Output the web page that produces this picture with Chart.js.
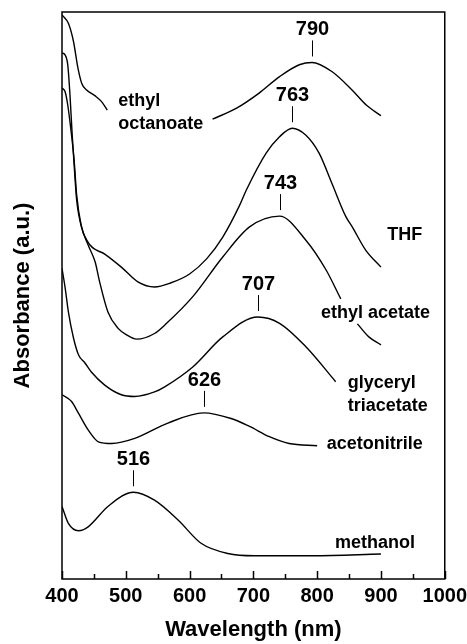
<!DOCTYPE html>
<html>
<head>
<meta charset="utf-8">
<script src="https://cdn.jsdelivr.net/npm/chart.js@4/dist/chart.umd.min.js"></script>
<style>
  body { margin: 0; background: #fff; }
  #wrap { width: 467px; height: 644px; }
</style>
</head>
<body>
<div id="wrap"><canvas id="spectra"></canvas></div>
<script>
// wavelength (nm) and absorbance (a.u., curves stacked with offsets)
// a null absorbance leaves a gap where the solvent name sits on the curve
const octanoateWl  = [400, 410, 418, 425, 431, 439, 452, 462, 471, 550, 636, 673, 709, 741, 772, 792, 823, 855, 877, 900];
const octanoateAbs = [99.5, 98.0, 94.8, 90.1, 87.4, 86.2, 85.2, 84.2, 82.7, null, 81.1, 83.0, 85.7, 88.6, 90.7, 91.1, 89.5, 86.2, 83.6, 81.7];

const thfWl  = [400, 405, 409, 412.5, 416, 420, 423, 431, 444, 467, 493, 519, 545, 570, 600, 627, 652, 678, 689, 720, 741, 761, 782, 803, 823, 845, 855, 876, 900];
const thfAbs = [92.8, 92.4, 90.7, 85.4, 78.3, 71.3, 66.8, 61.9, 58.9, 57.3, 55.0, 52.4, 51.5, 52.2, 53.8, 56.5, 60.3, 65.8, 68.6, 75.1, 78.0, 79.5, 78.3, 75.1, 69.8, 63.9, 62.1, 58.0, 55.0];

const ethylAcetateWl  = [400, 405, 409, 414, 419, 423, 430, 441, 452, 459, 472, 488, 502, 517, 545, 564, 605, 652, 694, 741, 782, 814, 837, 850, 863, 881, 900];
const ethylAcetateAbs = [86.6, 85.9, 83.6, 79.2, 73.9, 67.7, 62.4, 58.9, 55.9, 52.4, 47.1, 44.2, 43.0, 42.3, 43.3, 45.1, 49.8, 56.8, 62.1, 64.0, 59.8, 54.5, 49.4, null, 45.0, 42.7, 41.3];

const triacetinWl  = [400, 405, 410, 418, 426, 436, 446, 467, 493, 514, 545, 561, 605, 652, 707, 741, 782, 829];
const triacetinAbs = [54.8, 51.3, 47.1, 42.5, 39.5, 38.1, 36.5, 34.2, 32.5, 32.2, 33.0, 33.9, 37.4, 42.7, 46.2, 45.1, 41.0, 34.8];

const acetonitrileWl  = [400, 415, 426, 441, 457, 478, 514, 566, 622, 665, 694, 725, 756, 800];
const acetonitrileAbs = [32.5, 31.3, 29.2, 26.3, 24.2, 23.9, 24.8, 27.5, 29.3, 28.3, 26.9, 25.1, 23.9, 23.5];

const methanolWl  = [400, 410, 426, 441, 472, 512, 545, 582, 618, 660, 702, 793, 900];
const methanolAbs = [12.8, 9.8, 8.5, 9.2, 12.8, 15.3, 13.9, 10.4, 6.3, 4.5, 4.1, 4.1, 4.4];

// band maxima marked on the plot
const peakText = ['790', '763', '743', '707', '626', '516'];
const peakWl   = [792, 761, 741, 707, 622, 512];
const peakAbs  = [91.1, 79.5, 64.0, 46.2, 29.3, 15.3];

// solvent names, anchored at the left end of their first line
const solventNames = [['ethyl', 'octanoate'], ['THF'], ['ethyl acetate'], ['glyceryl', 'triacetate'], ['acetonitrile'], ['methanol']];
const solventWl    = [488, 910, 806, 848, 815, 828];
const solventAbs   = [83.4, 59.8, 46.0, 33.6, 22.9, 5.4];

const fontFamily = '"Liberation Sans", Arial, Helvetica, sans-serif';

function toPoints(wl, abs) {
    return wl.map((w, i) => ({ x: w, y: abs[i] }));
}

const series = [
    [octanoateWl, octanoateAbs],
    [thfWl, thfAbs],
    [ethylAcetateWl, ethylAcetateAbs],
    [triacetinWl, triacetinAbs],
    [acetonitrileWl, acetonitrileAbs],
    [methanolWl, methanolAbs],
];

// frame, inward x ticks, peak markers and solvent names
const decorations = {
    id: 'decorations',
    afterDatasetsDraw(chart) {
        const { ctx, chartArea: a, scales: { x, y } } = chart;
        ctx.save();
        ctx.strokeStyle = '#000';
        ctx.fillStyle = '#000';

        ctx.lineWidth = 1.5;
        ctx.strokeRect(a.left, a.top, a.right - a.left, a.bottom - a.top);

        for (let w = 400; w <= 1000; w += 50) {
            const px = Math.round(x.getPixelForValue(w)) + 0.5;
            const len = w % 100 === 0 ? 8 : 5;
            ctx.beginPath();
            ctx.moveTo(px, a.bottom);
            ctx.lineTo(px, a.bottom - len);
            ctx.stroke();
        }

        ctx.lineWidth = 1;
        ctx.font = 'bold 20px ' + fontFamily;
        ctx.textAlign = 'center';
        ctx.textBaseline = 'alphabetic';
        peakWl.forEach((w, i) => {
            const px = Math.round(x.getPixelForValue(w)) + 0.5;
            const py = y.getPixelForValue(peakAbs[i]);
            ctx.beginPath();
            ctx.moveTo(px, py - 6);
            ctx.lineTo(px, py - 22);
            ctx.stroke();
            ctx.fillText(peakText[i], px, py - 27);
        });

        ctx.font = 'bold 18px ' + fontFamily;
        ctx.textAlign = 'left';
        solventNames.forEach((lines, i) => {
            const px = x.getPixelForValue(solventWl[i]);
            const py = y.getPixelForValue(solventAbs[i]);
            lines.forEach((t, j) => ctx.fillText(t, px, py + j * 22.5));
        });
        ctx.restore();
    }
};

const ctx = document.getElementById('spectra').getContext('2d');

const spectraChart = new Chart(ctx, {
    type: 'line',
    data: {
        datasets: series.map(([wl, abs]) => ({
            data: toPoints(wl, abs),
            borderColor: '#000',
            borderWidth: 1.4,
            pointRadius: 0,
            fill: false,
            spanGaps: false,
            cubicInterpolationMode: 'monotone',
        })),
    },
    options: {
        responsive: true,
        maintainAspectRatio: false,
        animation: false,
        layout: {
            padding: { left: 6, top: 12, right: 0, bottom: 1 },
        },
        plugins: {
            legend: { display: false },
            tooltip: { enabled: false },
        },
        scales: {
            x: {
                type: 'linear',
                min: 400,
                max: 1000,
                grid: { display: false, drawTicks: false },
                border: { display: false },
                ticks: {
                    stepSize: 100,
                    padding: 0,
                    color: '#000',
                    font: { family: fontFamily, size: 20, weight: 'bold', lineHeight: 1.7 },
                    callback: (v) => String(v),
                },
                title: {
                    display: true,
                    text: 'Wavelength (nm)',
                    color: '#000',
                    font: { family: fontFamily, size: 22, weight: 'bold' },
                    padding: { top: 3.6, bottom: 0 },
                },
            },
            y: {
                min: 0,
                max: 100,
                grid: { display: false, drawTicks: false },
                border: { display: false },
                ticks: { display: false },
                title: {
                    display: true,
                    text: 'Absorbance (a.u.)',
                    color: '#000',
                    font: { family: fontFamily, size: 22, weight: 'bold' },
                    padding: { top: 4, bottom: 25.6 },
                },
            },
        },
    },
    plugins: [decorations],
});
</script>
</body>
</html>
